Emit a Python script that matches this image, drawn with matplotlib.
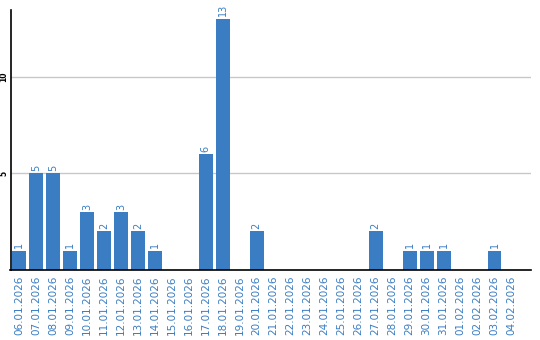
import matplotlib
matplotlib.use("Agg")
import matplotlib.pyplot as plt

dates = ["06.01.2026", "07.01.2026", "08.01.2026", "09.01.2026", "10.01.2026",
         "11.01.2026", "12.01.2026", "13.01.2026", "14.01.2026", "15.01.2026",
         "16.01.2026", "17.01.2026", "18.01.2026", "19.01.2026", "20.01.2026",
         "21.01.2026", "22.01.2026", "23.01.2026", "24.01.2026", "25.01.2026",
         "26.01.2026", "27.01.2026", "28.01.2026", "29.01.2026", "30.01.2026",
         "31.01.2026", "01.02.2026", "02.02.2026", "03.02.2026", "04.02.2026"]
values = [1, 5, 5, 1, 3, 2, 3, 2, 1, 0,
          0, 6, 13, 0, 2, 0, 0, 0, 0, 0,
          0, 2, 0, 1, 1, 1, 0, 0, 1, 0]
yticks = [5, 10]

blue = "#3a7dc3"
label_blue = "#3a7dc3"

fig = plt.figure(figsize=(5.4, 3.4), dpi=100)
ax = fig.add_axes([10.5/540, 70/340, 520.5/540, 260/340])

x = list(range(len(dates)))
ax.bar(x, values, width=0.82, color=blue, zorder=3)
for xi, v in zip(x, values):
    if v > 0:
        ax.text(xi, v + 0.12, str(v), rotation=90, ha="center", va="bottom",
                fontsize=7, color=label_blue)

ax.set_xlim(-0.5, 30.15)
ax.set_ylim(0, 13.45)
ax.set_yticks(yticks)
ax.set_yticklabels([str(t) for t in yticks], rotation=90, va="center",
                   fontsize=5.5, fontweight="bold")
ax.set_xticks(x)
ax.set_xticklabels(dates, rotation=90, fontsize=7.5, color=label_blue)
ax.tick_params(axis="both", length=0)
ax.tick_params(axis="x", pad=4)
ax.tick_params(axis="y", pad=1.5)
ax.grid(axis="y", color="#c8c8c8", linewidth=1, zorder=0)
for s in ["top", "right"]:
    ax.spines[s].set_visible(False)
ax.spines["left"].set_linewidth(1.2)
ax.spines["bottom"].set_linewidth(1.2)
ax.spines["left"].set_zorder(4)
ax.spines["bottom"].set_zorder(4)

fig.savefig("out.png", dpi=100)
